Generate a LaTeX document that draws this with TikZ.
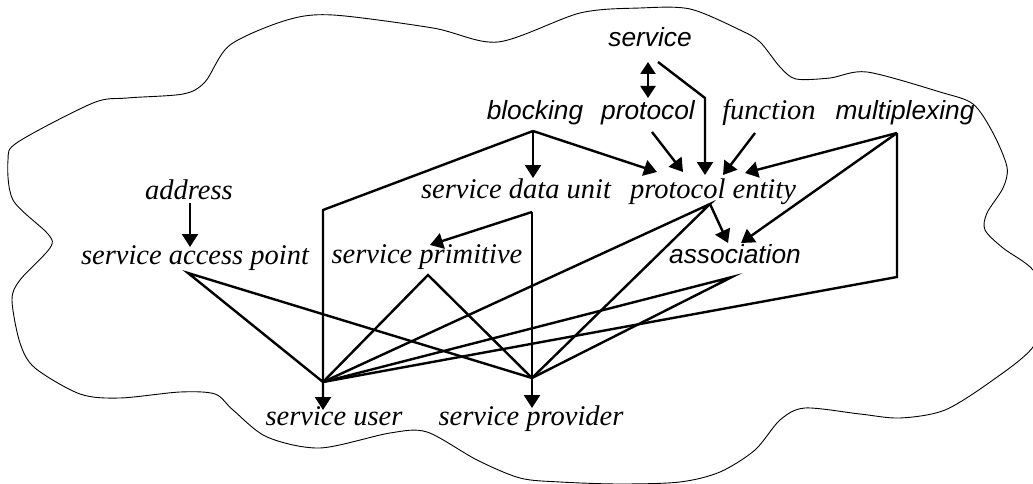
\documentclass[tikz,border=0pt]{standalone}
\usepackage{fontspec}
\setmainfont{Liberation Serif}
\newfontfamily\helv{Liberation Sans}
\usetikzlibrary{arrows.meta}

\tikzset{
  serifterm/.style={inner sep=0pt, anchor=base, font=\fontsize{28.5}{30}\selectfont\itshape},
  sansterm/.style={inner sep=0pt, anchor=base, font=\helv\fontsize{26.3}{28}\selectfont\itshape},
  link/.style={line width=2.4pt, line join=miter, line cap=butt},
  arr/.style={link, -{Triangle[length=13pt,width=16pt]}},
  darr/.style={link, {Triangle[length=12pt,width=15pt]}-{Triangle[length=12pt,width=15pt]}},
  outline/.style={line width=0.9pt}
}

\begin{document}
\begin{tikzpicture}[x=1pt,y=-1pt]
\useasboundingbox (0,0) rectangle (1033,484);
\clip (0,0) rectangle (1033,484);

% the enclosing cloud
\draw[outline] plot[smooth cycle, tension=0.5] coordinates {
  (333,15) (433,28) (498,42) (580,13) (640,8) (690,9) (740,30) (760,42)
  (780,67) (796,79) (830,78) (867,72) (940,92) (973,104) (993,133)
  (1007,167) (1003,188) (987,213) (985,230) (1003,248) (1033,270)
  (1048,305) (1033,347) (993,380) (945,410) (900,418) (860,414) (805,408)
  (780,420) (755,450) (720,472) (680,482) (620,484) (560,482) (520,478)
  (477,460) (427,432) (390,433) (320,448) (267,437) (233,410) (215,394)
  (180,392) (120,398) (80,394) (35,368) (20,343) (12,300) (20,280)
  (50,248) (48,234) (13,200) (8,160) (18,142) (93,103) (127,98) (183,94)
  (205,82) (230,45) (287,20)
};

% terms
\node[sansterm]  (service)  at (650,47)  {service};
\node[sansterm]  (blocking) at (535,120) {blocking};
\node[sansterm]  (protocol) at (648,120) {protocol};
\node[serifterm] (function) at (769,120) {function};
\node[sansterm]  (mux)      at (905,120) {multiplexing};
\node[serifterm] (address)  at (189,199) {address};
\node[serifterm] (sdu)      at (516,198) {service data unit};
\node[serifterm] (pe)       at (713,198) {protocol entity};
\node[serifterm] (sap)      at (195,264) {service access point};
\node[serifterm] (prim)     at (427,263) {service primitive};
\node[sansterm]  (assoc)    at (735,263) {association};
\node[serifterm] (user)     at (334,425) {service user};
\node[serifterm] (provider) at (531,425) {service provider};

% connector ports
\coordinate (address-o) at (190,203);
\coordinate (sap-i)     at (190,247);
\coordinate (sap-o)     at (188,273);
\coordinate (service-o1) at (648,62);
\coordinate (protocol-i) at (648,98);
\coordinate (service-o2) at (658,62);
\coordinate (service-bend) at (705,98);
\coordinate (blocking-o) at (533,131);
\coordinate (blocking-bend) at (323,210);
\coordinate (sdu-i)     at (533,178);
\coordinate (protocol-o) at (652,132);
\coordinate (function-o) at (755,133);
\coordinate (mux-o)     at (897,133);
\coordinate (mux-bend)  at (897,277);
\coordinate (pe-i1) at (657,172);
\coordinate (pe-i2) at (683,172);
\coordinate (pe-i3) at (705,175);
\coordinate (pe-i4) at (723,175);
\coordinate (pe-i5) at (745,173);
\coordinate (pe-o)  at (710,204);
\coordinate (assoc-i1) at (728,243);
\coordinate (assoc-i2) at (741,243);
\coordinate (assoc-o)  at (732,277);
\coordinate (sdu-o)    at (532,212);
\coordinate (prim-i)   at (430,245);
\coordinate (prim-o)   at (428,275);
\coordinate (user-hub) at (323,382);
\coordinate (user-i)   at (323,410);
\coordinate (provider-hub) at (532,378);
\coordinate (provider-i)   at (532,408);

% arrows between terms
\draw[arr]  (address-o) -- (sap-i);
\draw[darr] (service-o1) -- (protocol-i);
\draw[arr]  (service-o2) -- (service-bend) -- (pe-i3);
\draw[arr]  (blocking-o) -- (sdu-i);
\draw[arr]  (blocking-o) -- (pe-i1);
\draw[arr]  (protocol-o) -- (pe-i2);
\draw[arr]  (function-o) -- (pe-i4);
\draw[arr]  (mux-o) -- (pe-i5);
\draw[arr]  (mux-o) -- (assoc-i2);
\draw[arr]  (pe-o) -- (assoc-i1);
\draw[arr]  (sdu-o) -- (prim-i);
\draw[arr]  (blocking-o) -- (blocking-bend) -- (user-i);
\draw[arr]  (sdu-o) -- (provider-i);

% plain links to service user and service provider
\draw[link] (user-hub) -- (sap-o) -- (provider-hub);
\draw[link] (user-hub) -- (prim-o) -- (provider-hub);
\draw[link] (user-hub) -- (pe-o) -- (provider-hub);
\draw[link] (user-hub) -- (assoc-o) -- (provider-hub);
\draw[link] (mux-o) -- (mux-bend) -- (user-hub);
\end{tikzpicture}
\end{document}
